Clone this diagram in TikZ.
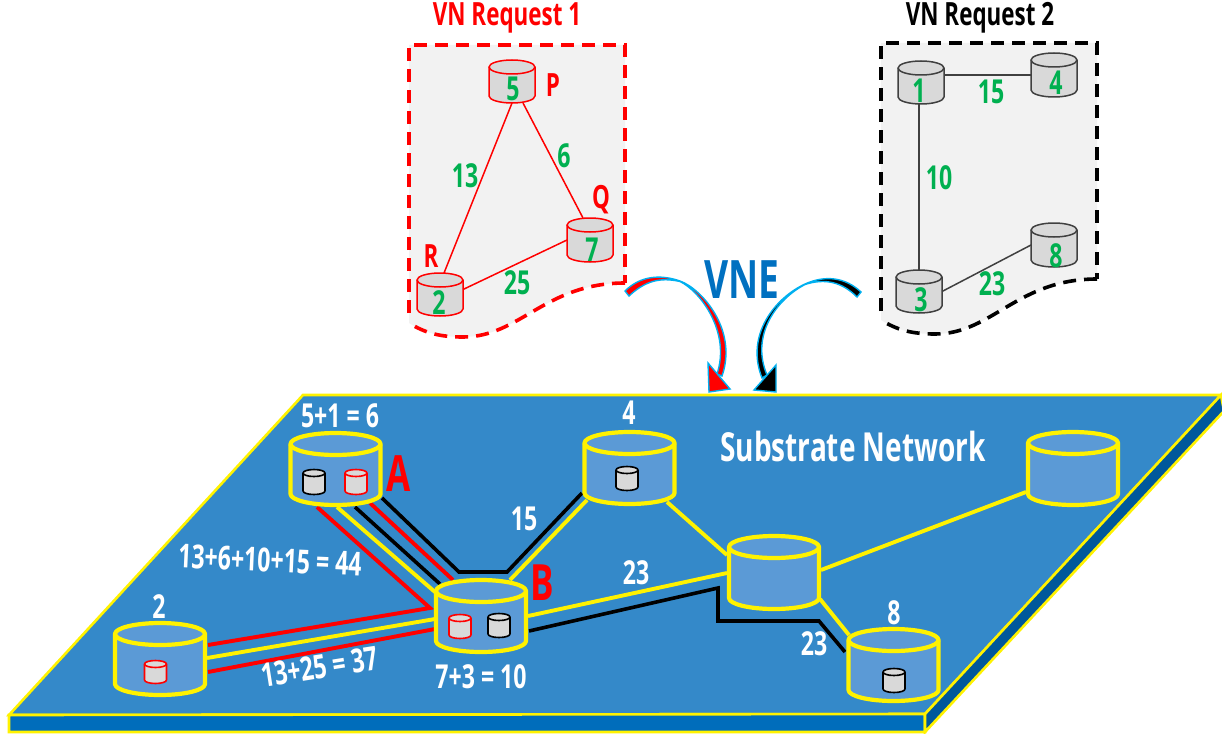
\documentclass[tikz,border=0pt]{standalone}
\usepackage{fontspec}
\setmainfont[FakeStretch=0.7]{Open Sans}
\definecolor{plate}{HTML}{3489C9}
\definecolor{front}{HTML}{006DBB}
\definecolor{sidec}{HTML}{00589B}
\definecolor{cylb}{HTML}{5B9AD6}
\definecolor{gr}{HTML}{00B050}
\definecolor{vne}{HTML}{0070C0}
\definecolor{sky}{HTML}{00B0F0}
\definecolor{dgray}{HTML}{404040}
\pgfdeclarelayer{platel}\pgfdeclarelayer{links}
\pgfsetlayers{platel,links,main}
\newcommand{\cyl}[7][]{%
  \pgfmathsetmacro{\cL}{#3-#6}\pgfmathsetmacro{\cR}{#3+#6}
  \pgfmathsetmacro{\cA}{#3-0.5523*#6}\pgfmathsetmacro{\cB}{#3+0.5523*#6}
  \pgfmathsetmacro{\tU}{#4-#7}\pgfmathsetmacro{\tD}{#4+#7}
  \pgfmathsetmacro{\tu}{#4-0.5523*#7}\pgfmathsetmacro{\td}{#4+0.5523*#7}
  \pgfmathsetmacro{\lD}{#5+#7}\pgfmathsetmacro{\ld}{#5+0.5523*#7}
  \pgfmathsetmacro{\cY}{(#4+#5)/2}
  \pgfmathsetmacro{\cW}{2*#6}\pgfmathsetmacro{\cH}{#5-#4+2*#7}
  \draw[#1] (\cL,#4) -- (\cL,#5) .. controls (\cL,\ld) and (\cA,\lD) .. (#3,\lD)
     .. controls (\cB,\lD) and (\cR,\ld) .. (\cR,#5) -- (\cR,#4)
     .. controls (\cR,\tu) and (\cB,\tU) .. (#3,\tU)
     .. controls (\cA,\tU) and (\cL,\tu) .. (\cL,#4) -- cycle;
  \draw[#1,fill=none] (\cL,#4) .. controls (\cL,\td) and (\cA,\tD) .. (#3,\tD)
     .. controls (\cB,\tD) and (\cR,\td) .. (\cR,#4);
  \node[minimum width=\cW pt,minimum height=\cH pt,inner sep=0pt,outer sep=0pt] (#2) at (#3,\cY) {};
}
\tikzset{
  x=1pt,y=-1pt,
  bigcyl/.style={draw=yellow,fill=cylb,line width=4.2pt,line join=round},
  redcyl/.style={draw=red,fill=black!15,line width=1.5pt,line join=round},
  blkcyl/.style={draw=dgray,fill=black!15,line width=1.5pt,line join=round},
  sredcyl/.style={draw=red,fill=black!15,line width=1.6pt,line join=round},
  sblkcyl/.style={draw=black,fill=black!15,line width=1.6pt,line join=round},
  redlink/.style={draw=red,line width=1.5pt},
  blklink/.style={draw=dgray,line width=1.5pt},
  yl/.style={draw=yellow,line width=3.9pt},
  rl/.style={draw=red,line width=3.9pt,line join=miter},
  kl/.style={draw=black,line width=3.6pt,line join=miter},
  panel/.style={line width=3.6pt,dash pattern=on 13pt off 8pt},
  txt/.style={font=\bfseries\fontsize{#1}{#1}\selectfont,inner sep=0pt},
  txt/.default=33,
  greent/.style={txt,text=gr},
  whitet/.style={txt,text=white},
  redt/.style={txt=32,text=red},
  curvea/.style={draw=sky,line width=1.4pt,line join=miter},
}
\begin{document}
\begin{tikzpicture}
\useasboundingbox (0,0) rectangle (1222,733);
% plate
\begin{pgfonlayer}{platel}
\path[fill=plate,draw=yellow,line width=2.6pt,line join=miter] (303,395) -- (1221,395) -- (925,714) -- (9,715) -- cycle;
\path[fill=front,draw=yellow,line width=2.6pt] (9,715) -- (925,714) -- (925,732) -- (9,732) -- cycle;
\path[fill=sidec,draw=yellow,line width=2.6pt] (925,714) -- (1221,395) -- (1224,411) -- (925,732) -- cycle;
\end{pgfonlayer}
% panels
\fill[black!5] (409,45) -- (625,45) -- (625,283) .. controls (545,283) and (520,337) .. (463,337) .. controls (440,337) and (425,333) .. (409,323) -- cycle;
\draw[panel,draw=red] (625,283) .. controls (545,283) and (520,337) .. (463,337) .. controls (440,337) and (425,333) .. (409,323);
\draw[panel,draw=red] (409,313) -- (409,45) -- (625,45) -- (625,283);
\fill[black!5] (881,43) -- (1097,43) -- (1097,279) .. controls (1017,279) and (992,334) .. (935,334) .. controls (912,334) and (897,330) .. (881,320) -- cycle;
\draw[panel,draw=black] (1097,279) .. controls (1017,279) and (992,334) .. (935,334) .. controls (912,334) and (897,330) .. (881,320);
\draw[panel,draw=black] (881,311) -- (881,43) -- (1097,43) -- (1097,279);
\node[txt=32,text=red] (t1) at (507,18) {VN Request 1};
\node[txt=32,text=black] (t2) at (980,18) {VN Request 2};
% request 1
\cyl[redcyl]{P}{512}{67}{96}{23}{7}
\cyl[redcyl]{Q}{590}{225}{255}{23}{7}
\cyl[redcyl]{R}{440}{280}{309}{23}{7}
\draw[redlink] (P.south) -- ([xshift=4pt]R.north);
\draw[redlink] ([xshift=11pt]P.south) -- ([xshift=-7pt]Q.north);
\draw[redlink] ([yshift=5pt]R.east) -- (Q.west);
\node[greent] (d5) at (513,89) {5};
\node[greent] (d7) at (592,250) {7};
\node[greent] (d2) at (439,303) {2};
\node[redt] (lp) at (553,85) {P};
\node[redt] (lq) at (601,200) {Q};
\node[redt] (lr) at (431,256) {R};
\node[greent] (w13) at (465,176) {13};
\node[greent] (w6) at (564,156) {6};
\node[greent] (w25) at (517,283) {25};
% request 2
\cyl[blkcyl]{n1}{921}{68}{97}{23}{7}
\cyl[blkcyl]{n4}{1054}{60}{90}{23}{7}
\cyl[blkcyl]{n3}{919}{277}{306}{23}{7}
\cyl[blkcyl]{n8}{1054}{230}{260}{23}{7}
\draw[blklink] ([yshift=7.5pt]n1.east) -- (n4.west);
\draw[blklink] ([xshift=-2pt]n1.south) -- (n3.north);
\draw[blklink] (n3.east) -- (n8.west);
\node[greent] (d1) at (919,91) {1};
\node[greent] (d4) at (1056,83) {4};
\node[greent] (d3) at (921,300) {3};
\node[greent] (d8) at (1056,256) {8};
\node[greent] (w15) at (991,92) {15};
\node[greent] (w10) at (939,178) {10};
\node[greent] (w23) at (992,284) {23};
% VNE
\node[txt=53,text=vne] (vne) at (742,280) {VNE};
% curved arrows
\path[fill=red,curvea] (625,291) .. controls (640,276) and (660,274) .. (680,281) .. controls (702,289) and (738,330) .. (722,376)
  -- (717,374) .. controls (731,332) and (700,291) .. (680,281.5) .. controls (660,277) and (645,281) .. (629,296) -- cycle;
\path[fill=red,curvea] (708,363) -- (730,389) -- (709,392) -- cycle;
\path[fill=black,curvea] (861,292) .. controls (845,277) and (825,275) .. (805,284) .. controls (775,298) and (745,335) .. (762,378)
  -- (767,375) .. controls (750,335) and (777,299) .. (805,284.5) .. controls (825,278) and (842,282) .. (857,297) -- cycle;
\path[fill=black,curvea] (776,365) -- (776,392) -- (754,390) -- cycle;
% substrate nodes
\cyl[bigcyl]{A}{335.5}{444}{494}{45}{11}
\cyl[bigcyl]{B}{481}{591}{641}{45}{11}
\cyl[bigcyl]{S2}{160}{634}{684}{45}{11}
\cyl[bigcyl]{S4}{629.5}{443}{493}{45}{11}
\cyl[bigcyl]{M}{774}{547}{598}{45}{11}
\cyl[bigcyl]{S8}{893.5}{640}{690}{45}{11}
\cyl[bigcyl]{T}{1073}{443}{494}{45}{11}
\cyl[sblkcyl]{a1}{314}{473}{491}{11}{3.5}
\cyl[sredcyl]{a2}{356}{473}{491}{11}{3.5}
\cyl[sredcyl]{b1}{460}{618}{635}{11}{3.5}
\cyl[sblkcyl]{b2}{499}{617}{634}{11}{3.5}
\cyl[sredcyl]{c1}{155.5}{664}{680}{11}{3.5}
\cyl[sblkcyl]{c2}{627}{470}{487}{11}{3.5}
\cyl[sblkcyl]{c3}{894}{672}{689}{11}{3.5}
% substrate links
\coordinate (bendr) at (430,608);
\coordinate (bk1) at (459,572);
\coordinate (bk2) at (507,572);
\coordinate (bk3) at (718,588);
\coordinate (bk4) at (718,621);
\coordinate (bk5) at (819,621);
\begin{pgfonlayer}{links}
\draw[rl] ([shift={(-18.5,38)}]A.center) -- (bendr) -- ([shift={(48,-14)}]S2.center);
\draw[yl] ([shift={(1.5,38)}]A.center) -- ([shift={(-46,-24)}]B.center);
\draw[kl] ([shift={(19.5,38)}]A.center) -- ([shift={(-41,-32)}]B.center);
\draw[rl] ([shift={(34.5,34)}]A.center) -- ([shift={(-28,-36)}]B.center);
\draw[kl] ([shift={(46.5,29)}]A.center) -- (bk1) -- (bk2) -- ([shift={(-47.5,25)}]S4.center);
\draw[yl] ([shift={(29,-36)}]B.center) -- ([shift={(-42.5,32)}]S4.center);
\draw[yl] ([shift={(47,-1)}]S2.center) -- ([shift={(-46,3)}]B.center);
\draw[rl] ([shift={(48,13)}]S2.center) -- ([shift={(-46,13)}]B.center);
\draw[yl] ([shift={(47,0)}]B.center) -- ([shift={(-47,0.5)}]M.center);
\draw[kl] ([shift={(48,15)}]B.center) -- (bk3) -- (bk4) -- (bk5) -- ([shift={(-48.5,-13)}]S8.center);
\draw[yl] ([shift={(37.5,34)}]S4.center) -- ([shift={(-47,-17.5)}]M.center);
\draw[yl] ([shift={(47,-2.5)}]M.center) -- ([shift={(-47,23.5)}]T.center);
\draw[yl] ([shift={(46,26.5)}]M.center) -- ([shift={(-44.5,-30)}]S8.center);
\end{pgfonlayer}
% labels
\node[whitet] (s1) at (340,416) {5+1 = 6};
\node[whitet] (s2) at (159,607) {2};
\node[whitet] (s3) at (629,413) {4};
\node[whitet] (s4) at (894,613) {8};
\node[whitet] (s5) at (524,519) {15};
\node[whitet] (s6) at (636,573) {23};
\node[whitet] (s7) at (814,644) {23};
\node[whitet,rotate=-2.6] (s8) at (270,560) {13+6+10+15 = 44};
\node[whitet,rotate=9] (s9) at (320,667) {13+25 = 37};
\node[whitet] (s10) at (481,677) {7+3 = 10};
\node[txt=40,text=white] (sn) at (853,446) {Substrate Network};
\node[txt=50,text=red] (la) at (399,474) {A};
\node[txt=50,text=red] (lb) at (542,583) {B};
\end{tikzpicture}
\end{document}
